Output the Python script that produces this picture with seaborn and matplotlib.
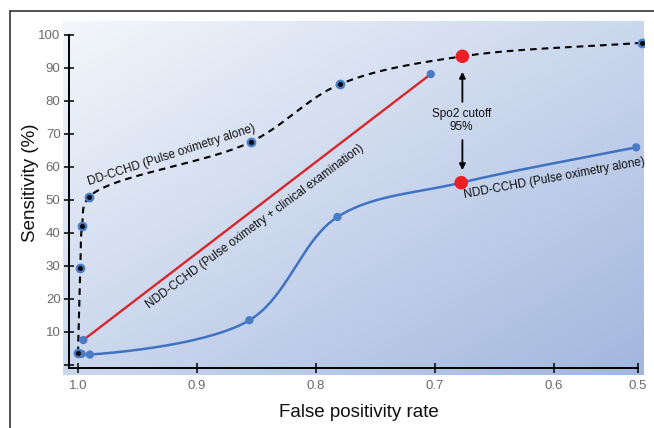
import numpy as np
import matplotlib
matplotlib.use("Agg")
import matplotlib.pyplot as plt
from matplotlib.lines import Line2D
import seaborn as sns

# ---- data ----
# DD-CCHD (pulse oximetry alone), dashed black curve
dd_fpr = [1.000, 0.998, 0.9966, 0.9908, 0.855, 0.780, 0.677, 0.526]
dd_sens = [3.5, 29.4, 42.1, 50.8, 67.5, 85.0, 93.5, 97.6]

# NDD-CCHD (pulse oximetry alone), blue curve
ndd_fpr = [1.000, 0.997, 0.990, 0.856, 0.782, 0.678, 0.531]
ndd_sens = [3.5, 3.3, 3.1, 13.5, 44.8, 55.2, 65.9]

# NDD-CCHD (pulse oximetry + clinical examination), red line
clin_fpr = [0.9955, 0.7036]
clin_sens = [7.5, 88.1]

# SpO2 95% cutoff points
cut_fpr = [0.677, 0.678]
cut_sens = [93.5, 55.2]

y_ticks = [0, 10, 20, 30, 40, 50, 60, 70, 80, 90, 100]
y_ticklabels = ["", "10", "20", "30", "40", "50", "60", "70", "80", "90", "100"]
x_ticks = [1.0, 0.9, 0.8, 0.7, 0.6, 0.5294]
x_ticklabels = ["1.0", "0.9", "0.8", "0.7", "0.6", "0.5"]

BLUE = "#3f73c2"
DOT_BLUE = "#4a7cc6"
RED = "#d8262a"
DOT_RED = "#ec1f26"

# rough pixel size of one data unit, so the smoothing works on the drawn shape
SX, SY = 1190.0, 3.3


def smooth(x, y, n=40):
    # centripetal Catmull-Rom through the read points (drawing only)
    p = np.column_stack([np.asarray(x, float) * SX, np.asarray(y, float) * SY])
    p = np.vstack([2 * p[0] - p[1], p, 2 * p[-1] - p[-2]])
    out = []
    for i in range(1, len(p) - 2):
        p0, p1, p2, p3 = p[i - 1], p[i], p[i + 1], p[i + 2]
        t0 = 0.0
        t1 = t0 + np.linalg.norm(p1 - p0) ** 0.5
        t2 = t1 + np.linalg.norm(p2 - p1) ** 0.5
        t3 = t2 + np.linalg.norm(p3 - p2) ** 0.5
        t = np.linspace(t1, t2, n)[:, None]
        a1 = (t1 - t) / (t1 - t0) * p0 + (t - t0) / (t1 - t0) * p1
        a2 = (t2 - t) / (t2 - t1) * p1 + (t - t1) / (t2 - t1) * p2
        a3 = (t3 - t) / (t3 - t2) * p2 + (t - t2) / (t3 - t2) * p3
        b1 = (t2 - t) / (t2 - t0) * a1 + (t - t0) / (t2 - t0) * a2
        b2 = (t3 - t) / (t3 - t1) * a2 + (t - t1) / (t3 - t1) * a3
        c = (t2 - t) / (t2 - t1) * b1 + (t - t1) / (t2 - t1) * b2
        out.append(c)
    c = np.vstack(out)
    return c[:, 0] / SX, c[:, 1] / SY


sns.set_style("white")
plt.rcParams["font.family"] = ["Liberation Sans", "DejaVu Sans"]

fig = plt.figure(figsize=(6.54, 4.28), dpi=100)
ax = fig.add_axes([63 / 654, 53 / 428, 581 / 654, 354 / 428])

xlim = (1.0126, 0.5244)
ylim = (-3.1, 104.2)

# ====================================================
# gradient background
# ====================================================
u = np.linspace(0, 1, 300)[None, :]
v = np.linspace(0, 1, 200)[:, None]
t = (0.5 * (u + v))[..., None]
c0 = np.array([0.955, 0.967, 0.985])
c1 = np.array([0.635, 0.718, 0.872])
grad = c0 * (1 - t) + c1 * t
ax.imshow(grad, extent=[xlim[0], xlim[1], ylim[0], ylim[1]],
          aspect="auto", zorder=0, interpolation="bicubic")

# ====================================================
# curves
# ====================================================
bx, by = smooth(ndd_fpr, ndd_sens)
sns.lineplot(x=bx, y=by, ax=ax, color=BLUE, linewidth=1.8,
             sort=False, estimator=None, zorder=3)

sns.lineplot(x=clin_fpr, y=clin_sens, ax=ax, color=RED, linewidth=1.7,
             sort=False, estimator=None, zorder=3)

kx, ky = smooth(dd_fpr, dd_sens)
sns.lineplot(x=kx, y=ky, ax=ax, color="black", linewidth=1.5,
             linestyle=(0, (3.2, 2.4)), sort=False, estimator=None, zorder=4)

# markers
sns.scatterplot(x=ndd_fpr, y=ndd_sens, ax=ax, color=DOT_BLUE, s=36,
                edgecolor="none", zorder=5)
sns.scatterplot(x=clin_fpr, y=clin_sens, ax=ax, color=DOT_BLUE, s=36,
                edgecolor="none", zorder=5)
sns.scatterplot(x=dd_fpr, y=dd_sens, ax=ax, color="black", s=28,
                edgecolor=DOT_BLUE, linewidth=1.7, zorder=6)
sns.scatterplot(x=cut_fpr, y=cut_sens, ax=ax, color=DOT_RED, s=95,
                edgecolor="none", zorder=7)

# ====================================================
# annotations
# ====================================================
ax.text(0.678, 74.1, "Spo2 cutoff\n95%", ha="center", va="center",
        fontsize=8.5, color="#111111", linespacing=1.1, zorder=8)
ax.annotate("", xy=(0.677, 88.8), xytext=(0.677, 79.7),
            arrowprops=dict(arrowstyle="-|>", color="black", lw=1.3,
                            mutation_scale=9, shrinkA=0, shrinkB=0))
ax.annotate("", xy=(0.677, 59.0), xytext=(0.677, 68.1),
            arrowprops=dict(arrowstyle="-|>", color="black", lw=1.3,
                            mutation_scale=9, shrinkA=0, shrinkB=0))

ax.text(0.921, 63.6, "DD-CCHD (Pulse oximetry alone)", rotation=18,
        rotation_mode="anchor", ha="center", va="center",
        fontsize=8.5, color="#111111", zorder=8)
ax.text(0.851, 42.0, "NDD-CCHD (Pulse oximetry + clinical examination)",
        rotation=36.5, rotation_mode="anchor", ha="center", va="center",
        fontsize=8.5, color="#111111", zorder=8)
ax.text(0.600, 56.6, "NDD-CCHD (Pulse oximetry alone)", rotation=10.5,
        rotation_mode="anchor", ha="center", va="center",
        fontsize=8.5, color="#111111", zorder=8)

# ====================================================
# axes
# ====================================================
ax.set_xlim(*xlim)
ax.set_ylim(*ylim)

for side in ["top", "right"]:
    ax.spines[side].set_visible(False)
ax.spines["left"].set_position(("data", 1.0076))
ax.spines["left"].set_bounds(-1.0, 100)
ax.spines["bottom"].set_position(("data", -1.0))
ax.spines["bottom"].set_bounds(1.0076, 0.5294)
for side in ["left", "bottom"]:
    ax.spines[side].set_linewidth(1.4)
    ax.spines[side].set_color("black")
    ax.spines[side].set_zorder(9)

ax.set_yticks(y_ticks)
ax.set_yticklabels(y_ticklabels)
ax.set_xticks(x_ticks)
ax.set_xticklabels(x_ticklabels)
ax.tick_params(axis="both", direction="inout", length=7, width=1.1,
               color="black", labelcolor="#6a6a6a", labelsize=9.5,
               bottom=True, left=True)
ax.tick_params(axis="y", pad=2.5)
ax.tick_params(axis="x", pad=5)

ax.set_xlabel("False positivity rate", fontsize=13.5, color="#111111")
ax.xaxis.set_label_coords(0.509, -0.082)
ax.set_ylabel("Sensitivity (%)", fontsize=13.5, color="#111111")
ax.yaxis.set_label_coords(-0.041, 0.542)

# outer frame (left and top edges only visible)
fx = 9.5 / 654
fy = 1 - 10.5 / 428
fig.add_artist(Line2D([fx, fx], [0, fy], transform=fig.transFigure,
                      color="#333333", lw=1.2))
fig.add_artist(Line2D([fx, 1], [fy, fy], transform=fig.transFigure,
                      color="#333333", lw=1.2))

fig.savefig("out.png", dpi=100)
